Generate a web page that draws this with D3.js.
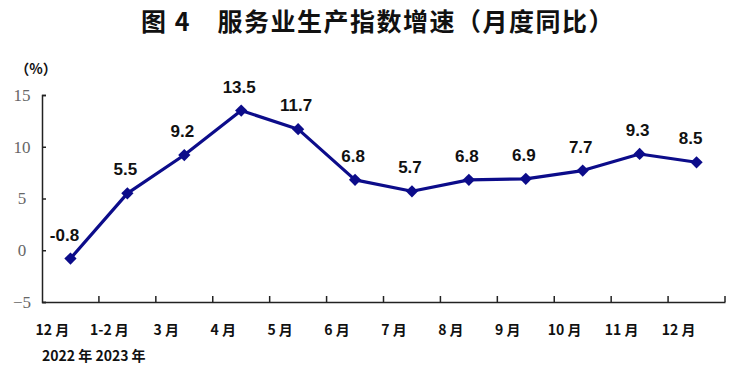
<!DOCTYPE html>
<html><head><meta charset="utf-8">
<script src="https://cdn.jsdelivr.net/npm/d3@7"></script>
<style>body{margin:0;background:#fff;}svg{display:block;}</style>
</head><body>
<svg id="c" width="741" height="380"></svg>
<script>
const categories = ["12 月","1-2 月","3 月","4 月","5 月","6 月","7 月","8 月","9 月","10 月","11 月","12 月"];
const values = [-0.8,5.5,9.2,13.5,11.7,6.8,5.7,6.8,6.9,7.7,9.3,8.5];
const yTicks = [-5,0,5,10,15];
const yearLabel = "2022 年 2023 年";
const titleText = "图 4　服务业生产指数增速（月度同比）";
const unitText = "（%）";

(function(){
const svg = d3.select("#c");
const mL = 42, mR = 725, mT = 95, mB = 302;
const x = d3.scaleBand().domain(d3.range(categories.length)).range([mL, mR]);
const y = d3.scaleLinear().domain([-5, 15]).range([mB, mT]);
const color = "#0c0c8a";

svg.append("text").attr("x", 378).attr("y", 31).attr("text-anchor", "middle")
  .attr("font-family", "'Noto Sans CJK SC'").attr("font-weight", "bold").attr("font-size", 25)
  .attr("letter-spacing", 1.5)
  .attr("fill", "#111").text(titleText);

svg.append("text").attr("x", 36).attr("y", 74).attr("text-anchor", "middle")
  .attr("font-family", "'Noto Sans CJK SC'").attr("font-weight", "bold").attr("font-size", 14)
  .attr("fill", "#111").text(unitText);

// y axis
const yAxis = svg.append("g").attr("transform", `translate(${mL},0)`)
  .call(d3.axisLeft(y).tickValues(yTicks).tickSize(-4).tickPadding(16).tickFormat(d => d < 0 ? "\u2212" + Math.abs(d) : d));
yAxis.select(".domain").attr("stroke", "#222").attr("stroke-width", 1.5);
yAxis.selectAll(".tick line").attr("stroke", "#222").attr("stroke-width", 1.5);
yAxis.selectAll(".tick text").attr("font-family", "'Liberation Serif'").attr("font-size", 17)
  .attr("fill", "#666").attr("text-anchor", "middle").attr("dx", -4);

// x axis
const xAxis = svg.append("g").attr("transform", `translate(0,${mB})`)
  .call(d3.axisBottom(x).tickSize(0).tickFormat(i => categories[i]));
xAxis.select(".domain").attr("stroke", "#222").attr("stroke-width", 1.5);
xAxis.selectAll(".tick text").attr("font-family", "'Noto Sans CJK SC'").attr("font-weight", "bold")
  .attr("font-size", 14).attr("fill", "#111").attr("dy", 30).attr("dx", -18);
svg.append("g").selectAll("line").data(d3.range(1, categories.length + 1)).join("line")
  .attr("x1", i => x.step() * i + mL).attr("x2", i => x.step() * i + mL)
  .attr("y1", mB).attr("y2", mB - 6).attr("stroke", "#222").attr("stroke-width", 1.5);

svg.append("text").attr("x", 42).attr("y", 361)
  .attr("font-family", "'Noto Sans CJK SC'").attr("font-weight", "bold").attr("font-size", 14)
  .attr("fill", "#111").text(yearLabel);

const cx = i => x(i) + x.bandwidth() / 2;
const line = d3.line().x((d, i) => cx(i)).y(d => y(d));
svg.append("path").datum(values).attr("d", line).attr("fill", "none")
  .attr("stroke", color).attr("stroke-width", 3.2).attr("stroke-linejoin", "round");

svg.append("g").selectAll("path").data(values).join("path")
  .attr("d", d3.symbol(d3.symbolSquare, 75)())
  .attr("transform", (d, i) => `translate(${cx(i)},${y(d)}) rotate(45)`)
  .attr("fill", color);

svg.append("g").selectAll("text").data(values).join("text")
  .attr("x", (d, i) => cx(i) + (i === 0 ? -6 : i === 11 ? -6 : -2))
  .attr("y", (d, i) => y(d) - 18)
  .attr("text-anchor", "middle")
  .attr("font-family", "'Liberation Sans', Arial").attr("font-weight", "bold").attr("font-size", 17)
  .attr("fill", "#111").text(d => d.toFixed(1));
})();
</script>
</body></html>
